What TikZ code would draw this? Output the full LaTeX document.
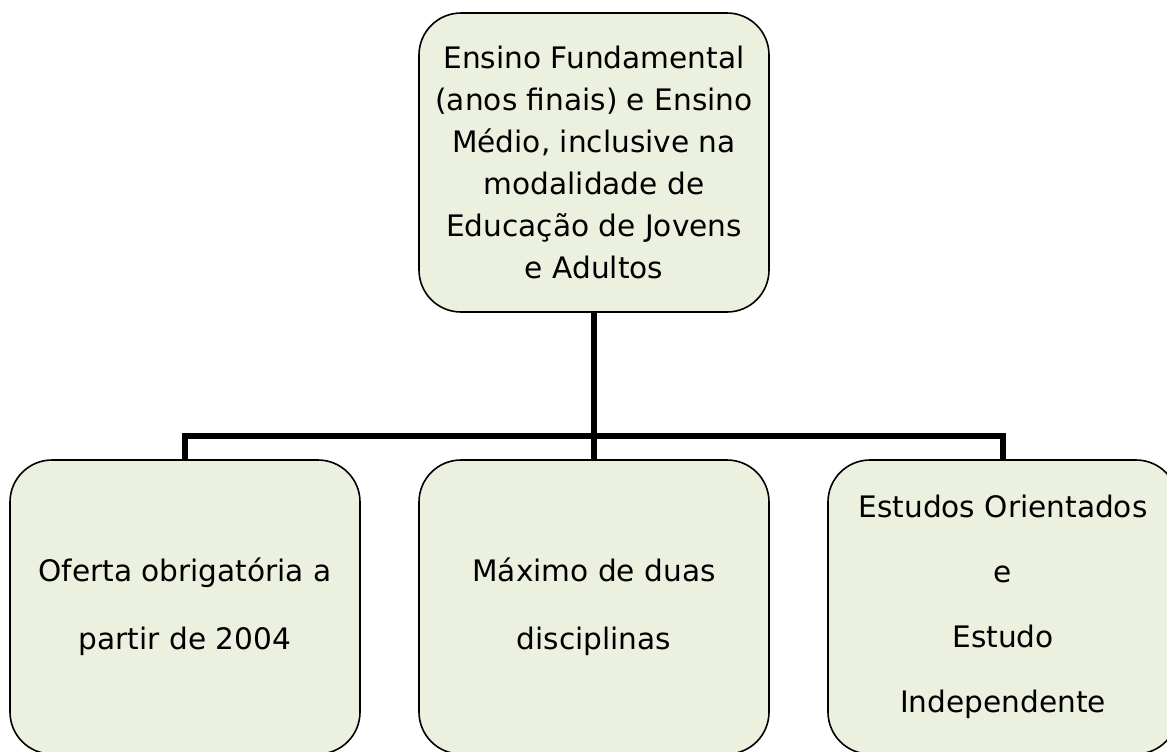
\documentclass[tikz,border=0pt]{standalone}
\usepackage{fontspec}
\setmainfont{DejaVu Sans}
\usetikzlibrary{positioning}
\definecolor{verdeclaro}{RGB}{235,241,222}

\begin{document}
\begin{tikzpicture}[x=0.5pt,y=-0.5pt,
    caixa/.style={draw,line width=0.8pt,fill=verdeclaro,rounded corners=21pt,
                  align=center,minimum width=175pt,inner sep=0pt},
    ramo/.style={line width=2.6pt}]
\useasboundingbox (0,0) rectangle (1167,751);

% caixa de cima
\node[caixa,minimum height=149.5pt,font=\fontsize{14.8}{21}\selectfont] (topo) at (594,162.5)
  {Ensino Fundamental\\(anos finais) e Ensino\\Médio, inclusive na\\modalidade de\\Educação de Jovens\\e Adultos};

% caixas de baixo
\node[caixa,minimum height=147pt,font=\fontsize{14.8}{34}\selectfont] (esq) at (185,607)
  {Oferta obrigatória a\\partir de 2004};
\node[caixa,minimum height=147pt,font=\fontsize{14.8}{34}\selectfont] (meio) at (594,607)
  {Máximo de duas\\disciplinas};
\node[caixa,minimum height=147pt,font=\fontsize{14.8}{32.5}\selectfont] (dir) at (1003,607)
  {Estudos Orientados\\e\\Estudo\\Independente};

% ligacoes
\coordinate (barra) at (594,436);
\draw[ramo] (topo.south) -- (barra);
\draw[ramo] (esq.north) -- (esq.north |- barra) -| (dir.north);
\draw[ramo] (barra) -- (meio.north);
\end{tikzpicture}
\end{document}
